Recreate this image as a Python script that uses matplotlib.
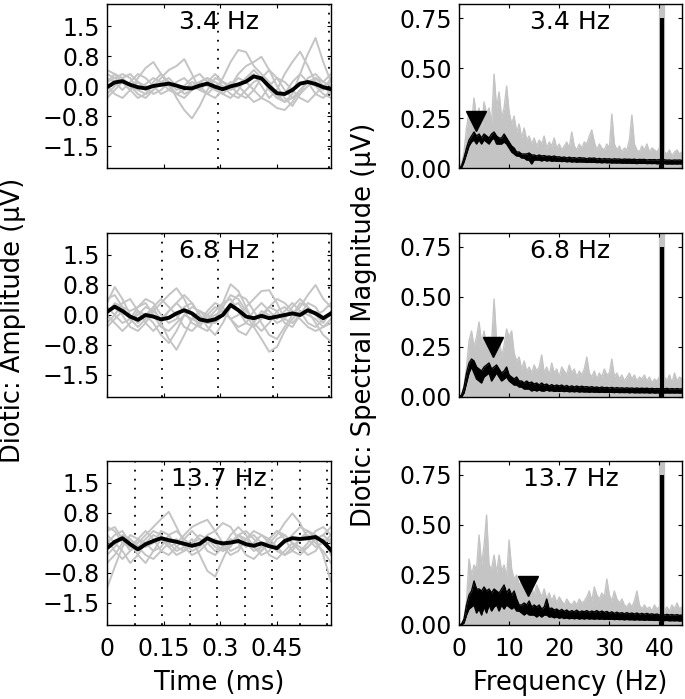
import numpy as np
import matplotlib
matplotlib.use("Agg")
import matplotlib.pyplot as plt

plt.rcParams['font.family'] = ['DejaVu Sans']

# ---------------- data ----------------
rates = ["3.4 Hz", "6.8 Hz", "13.7 Hz"]
rate_hz = [3.4, 6.8, 13.7]
time_ticks = [0, 0.15, 0.3, 0.45]
time_ticklabels = ["0", "0.15", "0.3", "0.45"]
amp_ticks = [-1.5, -0.75, 0.0, 0.75, 1.5]
amp_ticklabels = ["\u22121.5", "\u22120.8", "0.0", "0.8", "1.5"]
freq_ticks = [0, 10, 20, 30, 40]
mag_ticks = [0.0, 0.25, 0.5, 0.75]
mag_ticklabels = ["0.00", "0.25", "0.50", "0.75"]

# time-domain: mean (black) and individual (gray) waveforms, 30 samples over 0..0.59
mean_34 = [-0.03, 0.09, 0.12, 0.03, -0.03, -0.06, 0.0, 0.03, 0.06, 0.01, -0.05, -0.06, 0.01, 0.06, -0.02,
           -0.08, -0.01, 0.04, 0.11, 0.24, 0.19, -0.01, -0.18, -0.2, -0.1, 0.06, 0.1, 0.05, -0.03, -0.08]
mean_68 = [0.08, 0.21, 0.1, -0.04, -0.12, 0.0, -0.04, -0.11, -0.07, 0.04, 0.12, 0.04, -0.11, -0.15, -0.11,
           0.0, 0.25, 0.12, -0.04, -0.08, -0.02, -0.08, -0.04, 0.0, 0.04, 0.0, 0.12, 0.04, -0.08, 0.04]
mean_137 = [-0.13, 0.03, 0.12, -0.03, -0.16, -0.03, 0.05, 0.12, 0.07, 0.03, -0.02, -0.07, -0.02, 0.12, 0.03,
            -0.01, 0.01, 0.05, -0.03, -0.07, -0.01, -0.08, -0.13, 0.05, 0.12, 0.1, 0.12, 0.15, 0.03, -0.18]

indiv_34 = [
    [0.3, 0.2, 0.1, 0.0, -0.1, 0.05, 0.2, 0.1, -0.1, -0.2, -0.1, 0.0, 0.1, 0.2, 0.1, 0.0, -0.2, -0.3, -0.1, 0.1, 0.2, 0.0, -0.3, -0.4, -0.2, 0.3, 0.8, 1.2, 0.6, 0.1],
    [0.1, 0.3, 0.2, 0.0, -0.2, -0.3, -0.1, 0.1, 0.2, 0.0, -0.2, -0.1, 0.1, 0.0, -0.1, 0.2, 0.6, 0.9, 0.85, 0.5, 0.3, 0.1, -0.2, -0.4, -0.3, -0.1, 0.1, 0.2, 0.0, -0.2],
    [-0.2, 0.0, 0.2, 0.3, 0.1, -0.1, 0.0, 0.2, 0.4, 0.5, 0.67, 0.3, -0.1, -0.2, 0.0, 0.1, 0.0, -0.2, -0.3, -0.1, 0.2, 0.4, 0.2, -0.1, -0.3, -0.2, 0.0, 0.2, 0.1, 0.3],
    [0.0, -0.2, -0.3, -0.1, 0.1, 0.0, -0.2, -0.1, 0.1, -0.3, -0.6, -0.81, -0.5, -0.1, 0.2, 0.1, -0.1, 0.0, 0.2, 0.4, 0.2, -0.1, -0.3, -0.2, 0.1, 0.3, 0.1, -0.2, -0.3, -0.1],
    [0.2, 0.1, -0.1, 0.1, 0.3, 0.2, 0.0, -0.2, -0.1, 0.1, 0.2, 0.0, -0.1, 0.1, 0.3, 0.1, 0.0, 0.3, 0.5, 0.6, 0.73, 0.4, 0.0, -0.3, -0.5, -0.2, 0.2, 0.3, 0.1, 0.0],
    [-0.3, -0.1, 0.1, -0.1, -0.3, -0.2, 0.1, 0.3, 0.1, -0.1, 0.0, 0.2, 0.3, 0.1, -0.1, -0.2, 0.0, 0.2, 0.1, -0.1, -0.3, -0.4, -0.55, -0.6, -0.4, -0.1, 0.1, 0.0, -0.2, -0.3],
    [0.1, 0.2, 0.3, 0.2, -0.1, -0.2, -0.1, 0.1, 0.0, -0.2, -0.3, -0.1, 0.1, 0.2, 0.0, -0.2, -0.3, -0.1, 0.2, 0.3, 0.0, -0.3, -0.1, 0.3, 0.6, 0.86, 0.5, 0.1, -0.1, 0.2],
    [0.4, 0.3, 0.1, -0.1, 0.2, 0.45, 0.6, 0.3, 0.0, -0.2, -0.1, 0.1, 0.0, -0.2, -0.3, -0.1, 0.1, 0.0, -0.2, -0.4, -0.3, 0.0, 0.2, 0.1, -0.1, -0.3, -0.4, -0.2, 0.0, 0.1],
]
indiv_68 = [
    [0.3, 0.7, 0.4, 0.0, -0.2, 0.0, 0.2, -0.2, -0.6, -0.87, -0.5, -0.1, 0.1, 0.0, -0.1, 0.2, 0.5, 0.4, 0.1, -0.1, 0.0, 0.2, 0.1, -0.2, -0.3, 0.0, 0.3, 0.2, -0.1, 0.0],
    [0.1, 0.2, 0.0, -0.3, -0.4, -0.2, 0.1, 0.3, 0.5, 0.67, 0.4, 0.0, -0.3, -0.4, -0.1, 0.3, 0.77, 0.6, 0.2, -0.2, -0.4, -0.2, 0.1, 0.2, 0.0, 0.2, 0.5, 0.75, 0.4, 0.2],
    [-0.2, 0.0, 0.3, 0.4, 0.1, -0.2, -0.4, -0.2, 0.1, 0.3, 0.1, -0.2, -0.3, 0.0, 0.2, 0.1, -0.1, 0.0, 0.2, 0.4, 0.6, 0.62, 0.3, -0.1, -0.2, 0.0, 0.1, -0.2, -0.5, -0.67],
    [0.0, 0.3, 0.2, 0.1, 0.2, 0.4, 0.3, 0.0, -0.2, -0.1, 0.2, 0.3, 0.0, -0.3, -0.5, -0.2, 0.2, 0.3, 0.0, -0.3, -0.6, -0.92, -0.8, -0.4, -0.1, 0.1, 0.0, -0.1, -0.3, -0.2],
    [0.2, 0.0, -0.2, -0.1, 0.2, 0.3, 0.0, -0.3, -0.4, -0.2, 0.0, -0.1, -0.2, -0.1, 0.1, 0.3, 0.4, 0.1, -0.2, -0.3, -0.1, 0.2, 0.4, 0.3, 0.1, -0.1, -0.3, -0.4, -0.3, -0.1],
    [-0.3, -0.1, 0.1, -0.1, -0.3, -0.1, 0.2, 0.4, 0.2, 0.0, -0.3, -0.4, -0.2, 0.1, 0.3, 0.2, -0.1, -0.4, -0.5, -0.2, 0.1, 0.0, -0.2, -0.1, 0.2, 0.4, 0.2, 0.0, 0.1, 0.3],
    [0.4, 0.5, 0.2, -0.1, 0.0, 0.2, 0.1, -0.1, 0.1, 0.3, 0.5, 0.3, 0.0, -0.2, -0.2, 0.0, 0.3, 0.5, 0.4, 0.1, -0.2, -0.5, -0.6, -0.3, 0.0, 0.3, 0.2, 0.0, -0.2, 0.1],
    [0.0, -0.2, -0.4, -0.2, 0.1, 0.0, -0.2, -0.5, -0.7, -0.4, 0.0, 0.2, 0.1, -0.1, 0.0, 0.1, -0.1, -0.3, -0.2, 0.1, 0.3, 0.1, -0.1, 0.1, 0.3, 0.1, -0.2, -0.3, -0.1, 0.0],
]
indiv_137 = [
    [-1.13, -0.6, -0.1, 0.2, 0.1, -0.1, 0.0, 0.3, 0.2, -0.1, -0.2, 0.0, 0.2, 0.1, -0.1, -0.2, 0.0, 0.2, 0.1, -0.1, -0.3, -0.2, 0.1, 0.2, 0.0, -0.2, -0.1, 0.1, 0.2, 0.4],
    [0.3, 0.4, 0.1, -0.2, 0.0, 0.2, 0.4, 0.6, 0.78, 0.4, 0.0, -0.2, -0.1, 0.1, 0.0, -0.2, -0.1, 0.2, 0.3, 0.1, -0.1, 0.0, 0.2, 0.5, 0.74, 0.5, 0.1, -0.1, 0.0, 0.2],
    [0.0, 0.2, 0.3, 0.0, -0.3, -0.5, -0.2, 0.1, 0.0, -0.2, -0.1, 0.1, -0.3, -0.7, -0.84, -0.4, 0.0, 0.2, 0.0, -0.2, -0.1, 0.1, 0.3, 0.1, -0.2, -0.3, -0.1, 0.1, -0.3, -0.97],
    [0.2, 0.0, -0.2, -0.5, -0.3, 0.0, 0.2, 0.1, -0.1, 0.0, 0.2, 0.4, 0.5, 0.58, 0.3, 0.0, -0.2, -0.1, 0.1, 0.3, 0.2, 0.0, -0.2, -0.3, -0.1, 0.1, 0.3, 0.2, 0.0, 0.1],
    [-0.3, -0.1, 0.2, 0.1, -0.1, 0.1, 0.3, 0.2, -0.1, -0.3, -0.2, 0.0, 0.1, 0.0, -0.2, -0.1, 0.2, 0.4, 0.2, -0.1, -0.2, 0.1, 0.3, 0.2, 0.0, -0.2, 0.0, 0.3, 0.4, 0.2],
    [0.1, -0.2, -0.4, -0.2, 0.1, 0.3, 0.1, -0.2, -0.3, -0.1, 0.1, 0.3, 0.1, -0.2, -0.3, -0.1, 0.1, 0.0, -0.3, -0.4, -0.2, 0.0, -0.1, -0.3, -0.2, 0.1, 0.2, 0.0, -0.2, -0.5],
    [0.4, 0.3, 0.0, -0.1, 0.1, 0.0, -0.2, -0.1, 0.2, 0.3, 0.1, -0.1, 0.0, 0.2, 0.3, 0.5, 0.4, 0.1, -0.1, 0.0, 0.2, 0.1, -0.1, 0.0, 0.2, 0.4, 0.3, 0.1, 0.2, 0.0],
    [-0.5, -0.3, 0.0, 0.1, -0.1, -0.3, -0.4, -0.2, 0.0, 0.1, -0.1, -0.3, -0.2, 0.0, 0.1, -0.1, -0.3, -0.2, 0.1, 0.2, 0.0, -0.3, -0.4, -0.2, 0.0, -0.1, -0.3, -0.2, 0.1, -0.3],
]

# spectra, sampled every 0.5 Hz from 0 Hz
gray_34 = [0, 0.02, 0.08, 0.2, 0.28, 0.22, 0.35, 0.25, 0.3, 0.2, 0.33, 0.27, 0.3, 0.22, 0.47, 0.3, 0.38, 0.25, 0.3, 0.41,
           0.28, 0.22, 0.26, 0.18, 0.22, 0.15, 0.2, 0.14, 0.16, 0.12, 0.15, 0.11, 0.14, 0.12, 0.16, 0.1, 0.13, 0.11, 0.15, 0.1,
           0.12, 0.09, 0.11, 0.13, 0.1, 0.18, 0.11, 0.09, 0.12, 0.1, 0.13, 0.12, 0.16, 0.19, 0.13, 0.09, 0.12, 0.1, 0.09, 0.12,
           0.1, 0.27, 0.12, 0.09, 0.11, 0.08, 0.1, 0.09, 0.14, 0.265, 0.12, 0.09, 0.08, 0.11, 0.09, 0.12, 0.08, 0.1, 0.09, 0.08,
           0.1, 0.09, 0.08, 0.07, 0.09, 0.06, 0.08, 0.09, 0.07, 0.08]
black_hi_34 = [0, 0.01, 0.05, 0.1, 0.14, 0.16, 0.18, 0.16, 0.17, 0.15, 0.17, 0.16, 0.15, 0.17, 0.18, 0.16, 0.15, 0.15, 0.17, 0.15,
               0.13, 0.11, 0.1, 0.08, 0.08, 0.07, 0.07, 0.07, 0.075, 0.065, 0.065, 0.06, 0.065, 0.06, 0.062, 0.058, 0.06, 0.056, 0.06, 0.055,
               0.056, 0.052, 0.055, 0.05, 0.054, 0.05, 0.052, 0.048, 0.052, 0.05, 0.05, 0.046, 0.05, 0.048, 0.05, 0.045, 0.048, 0.044, 0.047, 0.045,
               0.046, 0.043, 0.046, 0.044, 0.045, 0.042, 0.045, 0.043, 0.044, 0.042, 0.044, 0.041, 0.043, 0.042, 0.043, 0.04, 0.042, 0.041, 0.042, 0.04,
               0.042, 0.04, 0.041, 0.039, 0.04, 0.038, 0.04, 0.039, 0.04, 0.038]
black_lo_34 = [0, 0.0, 0.03, 0.07, 0.11, 0.13, 0.14, 0.12, 0.14, 0.12, 0.14, 0.13, 0.12, 0.14, 0.15, 0.12, 0.12, 0.12, 0.13, 0.12,
               0.1, 0.08, 0.07, 0.06, 0.06, 0.05, 0.05, 0.04, 0.04, 0.02, 0.04, 0.04, 0.04, 0.035, 0.04, 0.035, 0.038, 0.034, 0.036, 0.034,
               0.035, 0.032, 0.034, 0.031, 0.033, 0.03, 0.032, 0.029, 0.031, 0.03, 0.03, 0.028, 0.03, 0.028, 0.029, 0.027, 0.028, 0.026, 0.028, 0.026,
               0.027, 0.025, 0.026, 0.025, 0.026, 0.024, 0.025, 0.024, 0.025, 0.023, 0.024, 0.022, 0.024, 0.023, 0.024, 0.022, 0.023, 0.022, 0.023, 0.021,
               0.022, 0.021, 0.022, 0.02, 0.021, 0.02, 0.021, 0.02, 0.021, 0.02]

gray_68 = [0, 0.0, 0.05, 0.15, 0.28, 0.33, 0.25, 0.3, 0.375, 0.27, 0.33, 0.25, 0.3, 0.27, 0.49, 0.28, 0.3, 0.2, 0.26, 0.34,
           0.3, 0.33, 0.22, 0.18, 0.2, 0.14, 0.18, 0.13, 0.15, 0.12, 0.16, 0.13, 0.15, 0.21, 0.12, 0.15, 0.11, 0.17, 0.12, 0.14,
           0.1, 0.15, 0.13, 0.11, 0.16, 0.12, 0.14, 0.1, 0.13, 0.11, 0.14, 0.2, 0.12, 0.1, 0.13, 0.09, 0.12, 0.1, 0.14, 0.11,
           0.12, 0.19, 0.1, 0.12, 0.09, 0.11, 0.08, 0.1, 0.12, 0.09, 0.11, 0.08, 0.1, 0.09, 0.11, 0.08, 0.1, 0.07, 0.09, 0.08,
           0.1, 0.08, 0.1, 0.08, 0.11, 0.07, 0.12, 0.08, 0.1, 0.09]
black_hi_68 = [0, 0.01, 0.05, 0.12, 0.17, 0.19, 0.18, 0.15, 0.14, 0.13, 0.15, 0.16, 0.17, 0.14, 0.15, 0.16, 0.14, 0.12, 0.13, 0.15,
               0.11, 0.1, 0.09, 0.1, 0.08, 0.08, 0.07, 0.08, 0.07, 0.075, 0.065, 0.07, 0.06, 0.07, 0.06, 0.065, 0.055, 0.062, 0.055, 0.06,
               0.055, 0.06, 0.052, 0.058, 0.05, 0.056, 0.05, 0.055, 0.05, 0.054, 0.05, 0.052, 0.048, 0.052, 0.047, 0.05, 0.046, 0.05, 0.046, 0.048,
               0.045, 0.048, 0.044, 0.047, 0.044, 0.046, 0.043, 0.046, 0.043, 0.045, 0.042, 0.045, 0.042, 0.044, 0.042, 0.044, 0.041, 0.043, 0.041, 0.042,
               0.041, 0.043, 0.041, 0.043, 0.04, 0.042, 0.04, 0.042, 0.04, 0.041]
black_lo_68 = [0, 0.0, 0.02, 0.07, 0.12, 0.15, 0.12, 0.09, 0.08, 0.07, 0.1, 0.11, 0.12, 0.08, 0.1, 0.12, 0.1, 0.08, 0.09, 0.1,
               0.08, 0.07, 0.06, 0.06, 0.05, 0.05, 0.04, 0.04, 0.04, 0.03, 0.035, 0.03, 0.035, 0.03, 0.03, 0.035, 0.03, 0.032, 0.028, 0.03,
               0.028, 0.03, 0.027, 0.029, 0.026, 0.028, 0.026, 0.028, 0.025, 0.027, 0.025, 0.026, 0.024, 0.026, 0.024, 0.025, 0.023, 0.025, 0.023, 0.024,
               0.023, 0.024, 0.022, 0.024, 0.022, 0.023, 0.022, 0.023, 0.021, 0.023, 0.021, 0.022, 0.021, 0.022, 0.021, 0.022, 0.02, 0.022, 0.02, 0.021,
               0.02, 0.021, 0.02, 0.021, 0.02, 0.021, 0.02, 0.021, 0.02, 0.02]

gray_137 = [0, 0.0, 0.03, 0.12, 0.33, 0.25, 0.3, 0.28, 0.45, 0.3, 0.4, 0.55, 0.3, 0.28, 0.35, 0.26, 0.35, 0.27, 0.3, 0.24,
            0.425, 0.28, 0.23, 0.25, 0.2, 0.22, 0.18, 0.2, 0.17, 0.19, 0.15, 0.2, 0.17, 0.14, 0.18, 0.13, 0.16, 0.12, 0.15, 0.11,
            0.14, 0.12, 0.1, 0.13, 0.11, 0.1, 0.12, 0.1, 0.13, 0.11, 0.12, 0.14, 0.17, 0.12, 0.19, 0.15, 0.13, 0.16, 0.14, 0.23,
            0.15, 0.12, 0.17, 0.13, 0.11, 0.13, 0.1, 0.09, 0.11, 0.09, 0.12, 0.17, 0.1, 0.08, 0.1, 0.08, 0.09, 0.07, 0.1, 0.08,
            0.09, 0.08, 0.07, 0.09, 0.07, 0.1, 0.08, 0.11, 0.08, 0.09]
black_hi_137 = [0, 0.005, 0.03, 0.1, 0.15, 0.17, 0.22, 0.18, 0.18, 0.17, 0.19, 0.17, 0.18, 0.16, 0.18, 0.17, 0.16, 0.18, 0.2, 0.16,
                0.18, 0.15, 0.17, 0.13, 0.1, 0.1, 0.11, 0.1, 0.12, 0.09, 0.1, 0.09, 0.1, 0.08, 0.09, 0.13, 0.08, 0.085, 0.075, 0.08,
                0.07, 0.078, 0.068, 0.075, 0.065, 0.072, 0.066, 0.074, 0.064, 0.07, 0.066, 0.072, 0.064, 0.07, 0.065, 0.072, 0.064, 0.07, 0.063, 0.068,
                0.06, 0.066, 0.058, 0.064, 0.058, 0.062, 0.056, 0.062, 0.056, 0.06, 0.055, 0.06, 0.054, 0.058, 0.054, 0.058, 0.053, 0.056, 0.052, 0.055,
                0.05, 0.054, 0.05, 0.053, 0.05, 0.052, 0.049, 0.052, 0.048, 0.05]
black_lo_137 = [0, 0.0, 0.01, 0.05, 0.08, 0.09, 0.1, 0.06, 0.08, 0.05, 0.09, 0.06, 0.1, 0.07, 0.09, 0.1, 0.07, 0.1, 0.08, 0.1,
                0.09, 0.08, 0.09, 0.07, 0.07, 0.06, 0.05, 0.06, 0.05, 0.05, 0.05, 0.04, 0.05, 0.04, 0.05, 0.05, 0.04, 0.042, 0.036, 0.04,
                0.034, 0.038, 0.032, 0.036, 0.031, 0.035, 0.031, 0.034, 0.03, 0.033, 0.03, 0.033, 0.03, 0.032, 0.029, 0.032, 0.029, 0.031, 0.028, 0.03,
                0.028, 0.03, 0.027, 0.029, 0.027, 0.028, 0.026, 0.028, 0.026, 0.027, 0.025, 0.027, 0.025, 0.026, 0.024, 0.026, 0.024, 0.025, 0.023, 0.024,
                0.022, 0.023, 0.022, 0.023, 0.021, 0.022, 0.021, 0.022, 0.02, 0.021]

spike_freq = 40.6
spike_black = 0.75
spike_gray = 0.85
peak_marker_y = [0.235, 0.25, 0.195]

means = [mean_34, mean_68, mean_137]
indivs = [indiv_34, indiv_68, indiv_137]
grays = [gray_34, gray_68, gray_137]
bhis = [black_hi_34, black_hi_68, black_hi_137]
blos = [black_lo_34, black_lo_68, black_lo_137]

# ---------------- figure ----------------
W, H = 685, 699
fig = plt.figure(figsize=(W / 100, H / 100), dpi=100)
GRAY = "#c4c4c4"
FS_TICK = 17
FS_TITLE = 18
FS_LABEL = 18.5
T_END = 0.594
F_END = 44.5

rows_px = [(4, 168), (233, 397), (461, 625)]
left_px = (107, 331)
right_px = (459, 682)

def add_ax(xpx, ypx):
    return fig.add_axes([xpx[0] / W, 1 - ypx[1] / H, (xpx[1] - xpx[0]) / W, (ypx[1] - ypx[0]) / H])

for r in range(3):
    # ---- time domain ----
    ax = add_ax(left_px, rows_px[r])
    t = np.linspace(0, T_END, len(means[r]))
    for tr in indivs[r]:
        ax.plot(np.linspace(0, T_END, len(tr)), tr, color=GRAY, lw=1.4, zorder=2)
    ax.plot(t, means[r], color="black", lw=2.8, zorder=3)
    period = 1.0 / rate_hz[r]
    k = 1
    while k * period < T_END:
        ax.axvline(k * period, color="black", ls=(0, (1, 4)), lw=1.3, zorder=1)
        k += 1
    ax.set_xlim(0, T_END)
    ax.set_ylim(-2.05, 2.05)
    ax.set_yticks(amp_ticks)
    ax.set_yticklabels(amp_ticklabels)
    ax.set_xticks(time_ticks)
    if r == 2:
        ax.set_xticklabels(time_ticklabels)
        ax.set_xlabel("Time (ms)", fontsize=FS_LABEL, labelpad=6)
    else:
        ax.set_xticklabels([])
    ax.tick_params(direction="in", top=True, right=True, length=3, width=0.8, labelsize=FS_TICK, pad=5)
    ax.tick_params(axis="x", pad=9)
    ax.text(0.5, 0.965, rates[r], transform=ax.transAxes, ha="center", va="top", fontsize=FS_TITLE, zorder=5)
    for s in ax.spines.values():
        s.set_linewidth(1.0)

    # ---- spectra ----
    ax2 = add_ax(right_px, rows_px[r])
    g = np.array(grays[r])
    f = np.arange(len(g)) * 0.5
    ax2.fill_between(f, 0, g, color=GRAY, lw=0, zorder=1)
    ax2.plot(f, g, color=GRAY, lw=1.0, zorder=1)
    ax2.plot([spike_freq, spike_freq], [0, spike_gray], color=GRAY, lw=4.5, zorder=1, solid_capstyle="butt")
    bh = np.array(bhis[r])
    bl = np.array(blos[r])
    fb = np.arange(len(bh)) * 0.5
    ax2.fill_between(fb, bl, bh, color="black", lw=0, zorder=2)
    ax2.plot(fb, bh, color="black", lw=1.0, zorder=2)
    ax2.plot(fb, bl, color="black", lw=1.0, zorder=2)
    ax2.plot([spike_freq, spike_freq], [0, spike_black], color="black", lw=3.0, zorder=3, solid_capstyle="butt")
    ax2.plot([rate_hz[r]], [peak_marker_y[r]], marker="v", color="black", markersize=15, zorder=4)
    ax2.set_xlim(0, F_END)
    ax2.set_ylim(0, 0.82)
    ax2.set_yticks(mag_ticks)
    ax2.set_yticklabels(mag_ticklabels)
    ax2.set_xticks(freq_ticks)
    if r == 2:
        ax2.set_xlabel("Frequency (Hz)", fontsize=FS_LABEL, labelpad=6)
    else:
        ax2.set_xticklabels([])
    ax2.tick_params(direction="in", top=True, right=True, length=3, width=0.8, labelsize=FS_TICK, pad=5)
    ax2.tick_params(axis="x", pad=9)
    ax2.text(0.5, 0.965, rates[r], transform=ax2.transAxes, ha="center", va="top", fontsize=FS_TITLE, zorder=5)
    for s in ax2.spines.values():
        s.set_linewidth(1.0)
        s.set_zorder(6)

fig.text(13 / W, 1 - 320 / H, "Diotic: Amplitude (\u00b5V)", rotation=90, ha="center", va="center", fontsize=FS_LABEL)
fig.text(364 / W, 1 - 325 / H, "Diotic: Spectral Magnitude (\u00b5V)", rotation=90, ha="center", va="center", fontsize=FS_LABEL)

fig.savefig("out.png", dpi=100)
